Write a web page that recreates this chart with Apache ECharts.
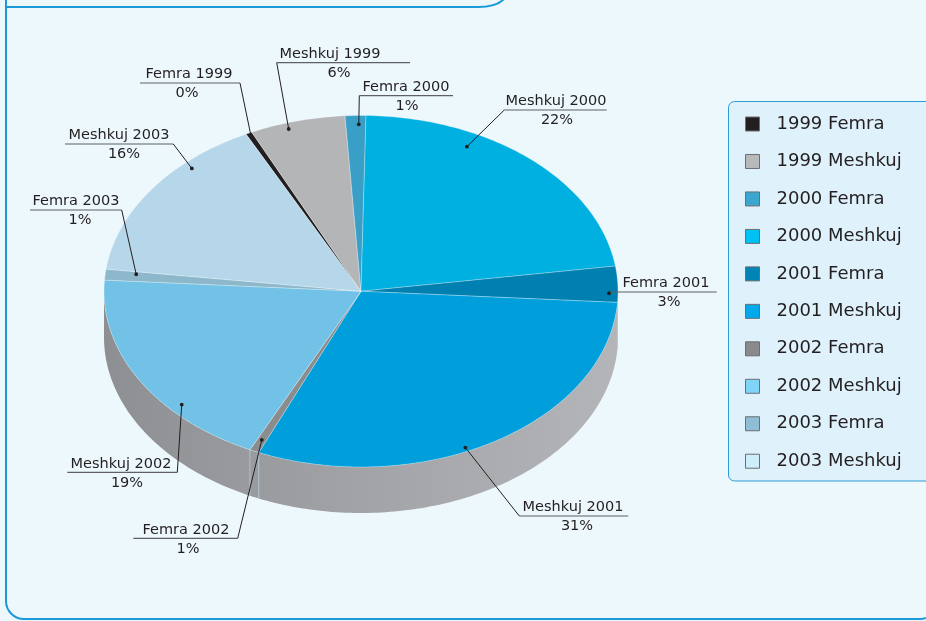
<!DOCTYPE html>
<html><head><meta charset="utf-8">
<script src="https://cdn.jsdelivr.net/npm/echarts@6/dist/echarts.min.js"></script>
<style>html,body{margin:0;padding:0;background:#edf8fd;} #c{width:926px;height:621px;}</style>
</head><body><div id="c"></div>
<script>
// ---- data ----
const years   = ['1999','1999','2000','2000','2001','2001','2002','2002','2003','2003'];
const genders = ['Femra','Meshkuj','Femra','Meshkuj','Femra','Meshkuj','Femra','Meshkuj','Femra','Meshkuj'];
const values  = [0.4, 6.0, 1.3, 22.4, 3.3, 30.5, 0.6, 18.9, 1.0, 15.6];

const legendNames = years.map((y, i) => y + ' ' + genders[i]);
const labelNames  = years.map((y, i) => genders[i] + ' ' + y);

// ---- styles ----
const sliceColors  = ['#231f20','#b4b5b7','#3a9fc7','#00b0e0','#0080b0','#009fdc','#8b8c8e','#71c2e6','#8db7cb','#b5d7e9'];
const legendColors = ['#231f20','#b8b9bb','#3ba6cf','#00c1f3','#0083b5','#00a9ea','#8a8a8c','#80d4f7','#8fbdd4','#cdeefb'];
const FONT = 'DejaVu Sans';
const TXT = '#231f20';

// label layout (pixels for text/underline; dot at fraction f of slice angle, radius r)
const labelLayout = [
  {tx:189, px:187, ly:83,    x1:140,   x2:240,   side:'r', f:0.5,   r:0.98},
  {tx:330, px:339, ly:62.7,  x1:276.7, x2:410,   side:'l', f:0.38,  r:0.965},
  {tx:406, px:407, ly:95.7,  x1:359.3, x2:453,   side:'l', f:0.65,  r:0.95},
  {tx:556, px:557, ly:110,   x1:504.3, x2:606.7, side:'l', f:0.316, r:0.92},
  {tx:666, px:669, ly:292,   x1:null,  x2:716.7, side:'l', f:0.75,  r:0.965},
  {tx:573, px:577, ly:516,   x1:519.3, x2:628.3, side:'l', f:0.563, r:0.978},
  {tx:186, px:188, ly:538.3, x1:133.3, x2:237.7, side:'r', f:0.5,   r:0.93},
  {tx:121, px:127, ly:472.3, x1:67.3,  x2:177.3, side:'r', f:0.318, r:0.95},
  {tx:76,  px:80,  ly:210,   x1:30,    x2:121.7, side:'r', f:0.74,  r:0.88},
  {tx:119, px:124, ly:144,   x1:65,    x2:173.3, side:'r', f:0.703, r:0.96}
];

const START = -26.6;  // degrees, clockwise from 12 o'clock
const DEPTH = 46;     // px thickness of the pie

const total = values.reduce((a, b) => a + b, 0);
const starts = []; let acc = 0;
values.forEach(v => { starts.push(START + acc / total * 360); acc += v; });
const spans = values.map(v => v / total * 360);

function pt(api, deg, r) {
  const t = deg * Math.PI / 180;
  return api.coord([r * Math.sin(t), r * Math.cos(t)]);
}
function arc(api, a, b, r) {
  const n = Math.max(2, Math.ceil(Math.abs(b - a)));
  const out = [];
  for (let k = 0; k <= n; k++) out.push(pt(api, a + (b - a) * k / n, r));
  return out;
}

const series = [];

// side walls
series.push({
  type: 'custom', name: 'side', coordinateSystem: 'cartesian2d', z: 1, clip: false, silent: true,
  data: values.map(v => [v]),
  renderItem: (params, api) => {
    const i = params.dataIndex;
    let a = ((starts[i] % 360) + 360) % 360;
    const b = a + spans[i];
    const L = api.coord([-1, 0]), R = api.coord([1, 0]);
    const grad = {type: 'linear', x: L[0], y: 0, x2: R[0], y2: 0, global: true, colorStops: [
      {offset: 0, color: '#8d8f92'}, {offset: 0.3, color: '#999b9e'},
      {offset: 0.55, color: '#a3a5a8'}, {offset: 1, color: '#b3b5b8'}]};
    const children = [];
    [[90, 270], [450, 630]].forEach(([lo0, hi0]) => {
      const lo = Math.max(a, lo0), hi = Math.min(b, hi0);
      if (lo < hi) {
        const top = arc(api, lo, hi, 1);
        const bot = top.slice().reverse().map(p => [p[0], p[1] + DEPTH]);
        children.push({type: 'polygon', shape: {points: top.concat(bot)}, style: {fill: grad}});
        if (lo === a) {
          const p = pt(api, lo, 1);
          children.push({type: 'line', shape: {x1: p[0], y1: p[1], x2: p[0], y2: p[1] + DEPTH},
            style: {stroke: 'rgba(175,205,222,0.75)', lineWidth: 1}});
        }
      }
    });
    return {type: 'group', children};
  }
});

// top faces (one series per slice, for the legend)
values.forEach((v, i) => {
  series.push({
    type: 'custom', name: legendNames[i], coordinateSystem: 'cartesian2d', z: 2, clip: false,
    itemStyle: {color: sliceColors[i]},
    data: [[v]],
    renderItem: (params, api) => {
      const a = starts[i], b = a + spans[i];
      const c = api.coord([0, 0]);
      return {type: 'polygon', shape: {points: [c].concat(arc(api, a, b, 1))},
        style: {fill: api.visual('color'), stroke: 'rgba(255,255,255,0.35)', lineWidth: 0.8, lineJoin: 'round'}};
    }
  });
});

// labels
series.push({
  type: 'custom', name: 'labels', coordinateSystem: 'cartesian2d', z: 5, clip: false, silent: true,
  data: values.map(v => [v]),
  renderItem: (params, api) => {
    const i = params.dataIndex;
    const Lb = labelLayout[i];
    const d = pt(api, starts[i] + spans[i] * Lb.f, Lb.r);
    const x1 = Lb.x1 == null ? d[0] : Lb.x1;
    const ex = Lb.side === 'l' ? x1 : Lb.x2;
    const pct = Math.round(api.value(0) / total * 100) + '%';
    return {type: 'group', children: [
      {type: 'line', shape: {x1: x1, y1: Lb.ly, x2: Lb.x2, y2: Lb.ly}, style: {stroke: '#5f6063', lineWidth: 1.2}},
      {type: 'line', shape: {x1: ex, y1: Lb.ly, x2: d[0], y2: d[1]}, style: {stroke: TXT, lineWidth: 1}},
      {type: 'circle', shape: {cx: d[0], cy: d[1], r: 1.9}, style: {fill: TXT}},
      {type: 'text', style: {text: labelNames[i], x: Lb.tx, y: Lb.ly - 8.5, align: 'center', verticalAlign: 'middle',
        fill: TXT, fontSize: 14.5, fontFamily: FONT}},
      {type: 'text', style: {text: pct, x: Lb.px, y: Lb.ly + 10.5, align: 'center', verticalAlign: 'middle',
        fill: TXT, fontSize: 14.5, fontFamily: FONT}}
    ]};
  }
});

const chart = echarts.init(document.getElementById('c'), null, {renderer: 'canvas'});
chart.setOption({
  backgroundColor: '#edf8fd',
  animation: false,
  grid: {left: 104, top: 115.5, width: 514, height: 351.5, show: false},
  xAxis: {type: 'value', min: -1, max: 1, show: false},
  yAxis: {type: 'value', min: -1, max: 1, show: false},
  legend: {
    orient: 'vertical', left: 745, top: 114, padding: 0,
    itemWidth: 14, itemHeight: 14, itemGap: 17.47, icon: 'rect',
    itemStyle: {borderColor: '#6d6e71', borderWidth: 1},
    textStyle: {fontFamily: FONT, fontSize: 18, color: TXT, lineHeight: 20, padding: [0, 0, 0, 12]},
    selectedMode: false,
    data: legendNames.map((n, i) => ({name: n, itemStyle: {color: legendColors[i]}}))
  },
  graphic: [
    {type: 'rect', z: -10, silent: true, shape: {x: 6, y: -40, width: 932, height: 659, r: 18},
      style: {fill: '#edf8fd', stroke: '#1a9ad7', lineWidth: 2}},
    {type: 'line', z: -9, silent: true, shape: {x1: 6, y1: 7, x2: 478, y2: 7},
      style: {stroke: '#1a9ad7', lineWidth: 2}},
    {type: 'bezierCurve', z: -9, silent: true, shape: {x1: 478, y1: 7, cpx1: 498, cpy1: 7, x2: 506, y2: -3},
      style: {fill: null, stroke: '#1a9ad7', lineWidth: 2}},
    {type: 'rect', z: -8, silent: true, shape: {x: 728.5, y: 101.5, width: 260, height: 379.5, r: 6},
      style: {fill: '#dff2fc', stroke: '#2a9bd3', lineWidth: 1}}
  ],
  series: series
});
</script></body></html>
